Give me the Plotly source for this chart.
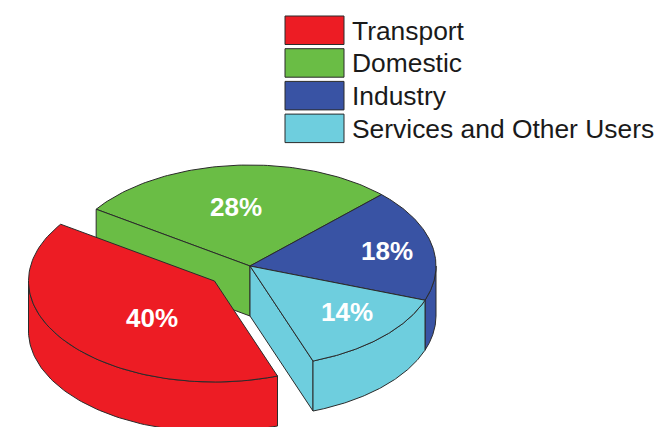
import numpy as np
import plotly.graph_objects as go

categories = ["Transport", "Domestic", "Industry", "Services and Other Users"]
shares = [40, 28, 18, 14]
colors = ["#ED1C24", "#6ABD45", "#3953A4", "#6ECEDE"]

W, H = 658, 427
CX, CY, RX, RY, DEPTH = 250, 266, 186, 101, 50
START = 45.0          # Industry / Domestic boundary, degrees
OFFSET = {"Transport": (-35.5, 15)}
LABEL_R = {"Transport": 0.497, "Domestic": 0.59, "Industry": 0.75, "Services and Other Users": 0.69}
LABEL_ANG = {"Transport": 9.6, "Domestic": 2.0, "Industry": -1.2, "Services and Other Users": 4.0}
EDGE = "#2b2b2b"

# Angle spans derived from the shares: Domestic goes counter-clockwise from START,
# then Transport; Industry and Services go clockwise.
spans = {}
a = START
for name in ["Domestic", "Transport"]:
    v = shares[categories.index(name)]
    spans[name] = (a, a + v * 3.6)
    a += v * 3.6
a = START
for name in ["Industry", "Services and Other Users"]:
    v = shares[categories.index(name)]
    spans[name] = (a - v * 3.6, a)
    a -= v * 3.6


def pt(ang, ox=0, oy=0, dz=0):
    t = np.radians(ang)
    return CX + ox + RX * np.cos(t), CY + oy - RY * np.sin(t) + dz


def arc(a0, a1, ox=0, oy=0, dz=0, n=90):
    ts = np.linspace(a0, a1, n)
    return pt(ts, ox, oy, dz)


fig = go.Figure()


def poly(xs, ys, color):
    fig.add_trace(go.Scatter(x=list(xs) + [xs[0]], y=list(ys) + [ys[0]], mode="lines", fill="toself",
                             fillcolor=color, line=dict(color=EDGE, width=1),
                             hoverinfo="skip", showlegend=False, cliponaxis=True))


def top(name):
    a0, a1 = spans[name]
    ox, oy = OFFSET.get(name, (0, 0))
    x, y = arc(a0, a1, ox, oy)
    poly(np.r_[CX + ox, x], np.r_[CY + oy, y], colors[categories.index(name)])


def rim(name, a0, a1):
    ox, oy = OFFSET.get(name, (0, 0))
    x, y = arc(a0, a1, ox, oy)
    xb, yb = arc(a1, a0, ox, oy, DEPTH)
    poly(np.r_[x, xb], np.r_[y, yb], colors[categories.index(name)])


def cut(name, ang):
    ox, oy = OFFSET.get(name, (0, 0))
    x, y = pt(ang, ox, oy)
    cx0, cy0 = CX + ox, CY + oy
    poly([cx0, x, x, cx0], [cy0, y, y + DEPTH, cy0 + DEPTH], colors[categories.index(name)])


# Painter's order, back to front
top("Domestic")
cut("Domestic", spans["Domestic"][1])
rim("Industry", spans["Industry"][0], 0)
top("Industry")
cut("Services and Other Users", spans["Services and Other Users"][0])
rim("Services and Other Users", spans["Services and Other Users"][0], spans["Services and Other Users"][1])
top("Services and Other Users")
rim("Transport", 180, spans["Transport"][1])
top("Transport")

annotations = []
for name, v in zip(categories, shares):
    a0, a1 = spans[name]
    mid = (a0 + a1) / 2 + LABEL_ANG[name]
    ox, oy = OFFSET.get(name, (0, 0))
    t = np.radians(mid)
    r = LABEL_R[name]
    annotations.append(dict(x=CX + ox + r * RX * np.cos(t), y=CY + oy - r * RY * np.sin(t),
                            text=f"<b>{v}%</b>", showarrow=False, xanchor="center", yanchor="middle",
                            font=dict(family="Liberation Sans", size=26, color="white")))

shapes = []
SW_X0, SW_X1, SW_Y0, SW_STEP, SW_H = 285, 344, 16, 32.7, 28.5
for i, (name, c) in enumerate(zip(categories, colors)):
    y0 = SW_Y0 + i * SW_STEP
    shapes.append(dict(type="rect", xref="x", yref="y", x0=SW_X0, x1=SW_X1, y0=y0, y1=y0 + SW_H,
                       fillcolor=c, line=dict(color=EDGE, width=1)))
    annotations.append(dict(x=352, y=y0 + SW_H / 2 + 0.5, text=name, showarrow=False, xanchor="left",
                            yanchor="middle", xshift=-2,
                            font=dict(family="Liberation Sans", size=26.4, color="#1a1a1a")))

fig.update_layout(width=W, height=H, margin=dict(l=0, r=0, t=0, b=0), paper_bgcolor="white",
                  plot_bgcolor="white", showlegend=False, shapes=shapes, annotations=annotations,
                  xaxis=dict(range=[0, W], visible=False, fixedrange=True),
                  yaxis=dict(range=[H, 0], visible=False, fixedrange=True))
fig.write_html("out.html", config={"displayModeBar": False},
               post_script="document.body.style.margin='0';document.documentElement.style.overflow='hidden';")
